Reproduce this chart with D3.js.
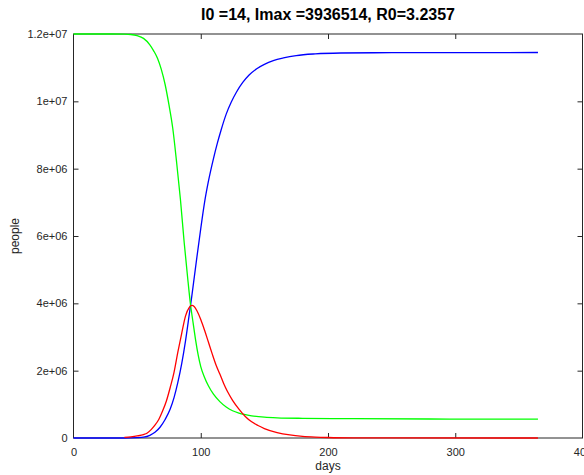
<!DOCTYPE html>
<html>
<head>
<meta charset="utf-8">
<script src="https://cdn.jsdelivr.net/npm/d3@7"></script>
<style>
  html, body { margin: 0; padding: 0; background: #fff; }
  svg { display: block; font-family: "Liberation Sans", Arial, Helvetica, sans-serif; }
</style>
</head>
<body>
<svg id="chart" width="584" height="475"></svg>
<script>
// SIR epidemic curves: susceptible (S), infected (I), recovered (R)
const sDays = [0, 30, 40, 45, 50, 55, 60, 63, 66, 69, 72, 75, 78, 81, 84, 87, 90, 92, 94, 96, 98, 100, 103, 106, 110, 115, 120, 125, 130, 140, 150, 160, 180, 220, 280, 365];
const susceptible = [12.0e6, 12.0e6, 11.995e6, 11.985e6, 11.95e6, 11.87e6, 11.68e6, 11.5e6, 11.28e6, 10.95e6, 10.5e6, 9.9e6, 9.2e6, 8.2e6, 7.1e6, 5.8e6, 4.65e6, 3.95e6, 3.42e6, 2.9e6, 2.46e6, 2.12e6, 1.8e6, 1.55e6, 1.3e6, 1.08e6, 0.92e6, 0.81e6, 0.74e6, 0.66e6, 0.62e6, 0.6e6, 0.585e6, 0.575e6, 0.565e6, 0.56e6];

const iDays = [40, 45, 50, 55, 58, 61, 64, 67, 70, 73, 76, 79, 82, 85, 88, 91, 93, 95, 97, 100, 103, 106, 109, 112, 115, 118, 121, 125, 130, 135, 140, 145, 150, 160, 170, 180, 190, 200, 220, 250, 365];
const infected = [0.02e6, 0.035e6, 0.06e6, 0.1e6, 0.15e6, 0.25e6, 0.38e6, 0.55e6, 0.8e6, 1.1e6, 1.5e6, 1.95e6, 2.55e6, 3.1e6, 3.62e6, 3.88e6, 3936514, 3.9e6, 3.78e6, 3.52e6, 3.2e6, 2.85e6, 2.5e6, 2.17e6, 1.9e6, 1.62e6, 1.38e6, 1.12e6, 0.86e6, 0.64e6, 0.48e6, 0.37e6, 0.28e6, 0.16e6, 0.09e6, 0.05e6, 0.028e6, 0.015e6, 0.004e6, 0.001e6, 0];

const rDays = [0, 40, 50, 55, 60, 64, 68, 72, 76, 79, 82, 85, 88, 91, 93, 95, 97, 100, 103, 106, 110, 113, 116, 120, 124, 128, 133, 138, 144, 150, 157, 165, 175, 190, 210, 250, 365];
const recovered = [0, 0, 0.01e6, 0.025e6, 0.08e6, 0.17e6, 0.32e6, 0.55e6, 0.86e6, 1.2e6, 1.65e6, 2.2e6, 2.88e6, 3.68e6, 4.22e6, 4.8e6, 5.38e6, 6.22e6, 7.0e6, 7.62e6, 8.3e6, 8.75e6, 9.15e6, 9.62e6, 9.98e6, 10.27e6, 10.56e6, 10.78e6, 10.97e6, 11.1e6, 11.21e6, 11.29e6, 11.36e6, 11.41e6, 11.435e6, 11.445e6, 11.45e6];

const xTicks = [0, 100, 200, 300, 400];
const yTicks = [0, 2e6, 4e6, 6e6, 8e6, 1e7, 1.2e7];
const yTickLabels = ["0", "2e+06", "4e+06", "6e+06", "8e+06", "1e+07", "1.2e+07"];
const titleText = "I0 =14, Imax =3936514, R0=3.2357";

const svg = d3.select("#chart");
const plotLeft = 73.5, plotRight = 582.5, plotTop = 34, plotBottom = 438;
const axisColor = "#262626";

const x = d3.scaleLinear().domain([0, 400]).range([plotLeft, plotRight]);
const y = d3.scaleLinear().domain([0, 1.2e7]).range([plotBottom, plotTop]);

// plot frame
svg.append("rect")
  .attr("x", plotLeft).attr("y", plotTop)
  .attr("width", plotRight - plotLeft).attr("height", plotBottom - plotTop)
  .attr("fill", "none").attr("stroke", axisColor).attr("stroke-width", 1);

const styleAxis = g => {
  g.select(".domain").remove();
  g.selectAll(".tick line").attr("stroke", axisColor);
  g.selectAll(".tick text").attr("fill", axisColor);
};

// bottom axis with inward ticks
svg.append("g")
  .attr("transform", `translate(0,${plotBottom})`)
  .call(d3.axisBottom(x).tickValues(xTicks).tickSize(-5).tickPadding(10).tickFormat(d3.format("d")))
  .attr("font-size", 11).attr("font-family", null)
  .call(styleAxis)
  .call(g => g.selectAll(".tick").filter(d => d === 0 || d === 400).select("line").remove());

// top mirror ticks
svg.append("g")
  .attr("transform", `translate(0,${plotTop})`)
  .call(d3.axisTop(x).tickValues([100, 200, 300]).tickSize(-5).tickFormat(""))
  .call(styleAxis);

// left axis
svg.append("g")
  .attr("transform", `translate(${plotLeft},0)`)
  .call(d3.axisLeft(y).tickValues(yTicks).tickSize(-5).tickPadding(6).tickFormat((d, i) => yTickLabels[i]))
  .attr("font-size", 11).attr("font-family", null)
  .call(styleAxis)
  .call(g => g.selectAll(".tick").filter(d => d === 0 || d === 1.2e7).select("line").remove());

// right mirror ticks
svg.append("g")
  .attr("transform", `translate(${plotRight},0)`)
  .call(d3.axisRight(y).tickValues(yTicks.slice(1, -1)).tickSize(-5).tickFormat(""))
  .call(styleAxis);

const line = (xs, ys) => d3.line()
  .x((d, i) => x(xs[i]))
  .y(d => y(d))
  .curve(d3.curveMonotoneX)(ys);

const curves = [
  { xs: rDays, ys: recovered, color: "#0000ff" },
  { xs: sDays, ys: susceptible, color: "#00ff00" },
  { xs: iDays, ys: infected, color: "#ff0000" }
];

svg.append("g").selectAll("path")
  .data(curves)
  .join("path")
  .attr("d", c => line(c.xs, c.ys))
  .attr("fill", "none")
  .attr("stroke", c => c.color)
  .attr("stroke-width", 1.3);

// title and axis labels
svg.append("text")
  .attr("x", (plotLeft + plotRight) / 2).attr("y", 20)
  .attr("text-anchor", "middle")
  .attr("font-size", 16).attr("font-weight", "bold")
  .attr("fill", "#000")
  .text(titleText);

svg.append("text")
  .attr("x", (plotLeft + plotRight) / 2).attr("y", 470)
  .attr("text-anchor", "middle")
  .attr("font-size", 12)
  .attr("fill", axisColor)
  .text("days");

svg.append("text")
  .attr("transform", `translate(19,${(plotTop + plotBottom) / 2}) rotate(-90)`)
  .attr("text-anchor", "middle")
  .attr("font-size", 12)
  .attr("fill", axisColor)
  .text("people");
</script>
</body>
</html>
